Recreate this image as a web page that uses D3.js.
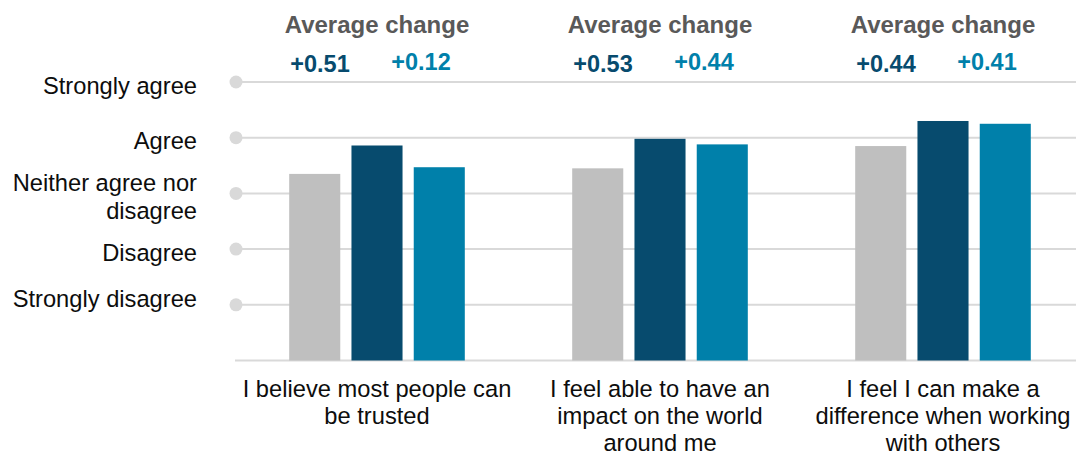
<!DOCTYPE html>
<html>
<head>
<meta charset="utf-8">
<script src="https://cdn.jsdelivr.net/npm/d3@7"></script>
<style>
  html, body { margin: 0; padding: 0; background: #fff; }
  svg { display: block; font-family: Arial, "Liberation Sans", sans-serif; }
</style>
</head>
<body>
<svg id="chart" width="1076" height="455"></svg>
<script>
// ---- data ----
const categories = [
  "I believe most people can be trusted",
  "I feel able to have an impact on the world around me",
  "I feel I can make a difference when working with others"
];
const categoryLines = [
  ["I believe most people can", "be trusted"],
  ["I feel able to have an", "impact on the world", "around me"],
  ["I feel I can make a", "difference when working", "with others"]
];
const seriesNames = ["Baseline", "Follow-up 1", "Follow-up 2"];
const baselineValues = [3.35, 3.45, 3.85];
const followUp1Values = [3.86, 3.98, 4.30];
const followUp2Values = [3.47, 3.88, 4.25];
const change1Labels = ["+0.51", "+0.53", "+0.44"];
const change2Labels = ["+0.12", "+0.44", "+0.41"];
const tickValues = [1, 2, 3, 4, 5];
const tickLabels = ["Strongly disagree", "Disagree", "Neither agree nor disagree", "Agree", "Strongly agree"];
const tickLabelLines = [["Strongly disagree"], ["Disagree"], ["Neither agree nor", "disagree"], ["Agree"], ["Strongly agree"]];
const headerText = "Average change";

// ---- styles ----
const colors = ["#BFBFBF", "#074B6E", "#0080AA"];
const gridColor = "#D9D9D9";

const svg = d3.select("#chart");
const W = 1076;

const y = d3.scaleLinear().domain([0, 5]).range([360.5, 82]);
const x0 = d3.scaleBand().domain(categories).range([235.5, 1084.5]).padding(0);
const x1 = d3.scaleBand().domain(seriesNames).range([-87.8, 87.8]).paddingInner(0.18).paddingOuter(0);
const cx = c => x0(c) + x0.bandwidth() / 2;

const seriesValues = [baselineValues, followUp1Values, followUp2Values];
const data = categories.map((c, i) => ({
  category: c,
  values: seriesNames.map((s, j) => ({ series: s, value: seriesValues[j][i], color: colors[j] }))
}));

// gridlines with dots
const grid = svg.append("g");
grid.selectAll("line.grid").data(tickValues).join("line")
  .attr("x1", 236).attr("x2", W)
  .attr("y1", d => y(d)).attr("y2", d => y(d))
  .attr("stroke", gridColor).attr("stroke-width", 2);
grid.selectAll("circle").data(tickValues).join("circle")
  .attr("cx", 236).attr("cy", d => y(d)).attr("r", 6.5)
  .attr("fill", gridColor);
// baseline
grid.append("line")
  .attr("x1", 235).attr("x2", W)
  .attr("y1", y(0)).attr("y2", y(0))
  .attr("stroke", gridColor).attr("stroke-width", 2);

// bars
const groups = svg.append("g").selectAll("g").data(data).join("g")
  .attr("transform", d => `translate(${cx(d.category)},0)`);
groups.selectAll("rect").data(d => d.values).join("rect")
  .attr("x", d => x1(d.series))
  .attr("width", x1.bandwidth())
  .attr("y", d => y(d.value))
  .attr("height", d => y(0) - y(d.value))
  .attr("fill", d => d.color);

// y labels
const labelNudge = { "Strongly disagree": -9.5 };
const lineH = 27.3;
const yl = svg.append("g").attr("font-size", "23.7px").attr("fill", "#0d0d0d").attr("text-anchor", "end");
tickValues.forEach((v, i) => {
  const lines = tickLabelLines[i];
  const base = y(v) + 11.5 - (lines.length - 1) * lineH / 2 + (labelNudge[tickLabels[i]] || 0);
  const t = yl.append("text").attr("x", 197).attr("y", base);
  lines.forEach((ln, k) => {
    t.append("tspan").attr("x", 197).attr("y", base + k * lineH).text(ln);
  });
});

// category labels
const cl = svg.append("g").attr("font-size", "23.7px").attr("fill", "#0d0d0d").attr("text-anchor", "middle");
categories.forEach((c, i) => {
  const t = cl.append("text");
  categoryLines[i].forEach((ln, k) => {
    t.append("tspan").attr("x", cx(c)).attr("y", 397.3 + k * 27).text(ln);
  });
});

// headers
const hd = svg.append("g").attr("font-weight", "bold").attr("text-anchor", "middle");
categories.forEach((c, i) => {
  hd.append("text").attr("x", cx(c)).attr("y", 33)
    .attr("font-size", "24px").attr("fill", "#595959").text(headerText);
  hd.append("text").attr("x", cx(c) - 57).attr("y", 71.5)
    .attr("font-size", "23.5px").attr("fill", colors[1]).text(change1Labels[i]);
  hd.append("text").attr("x", cx(c) + 44).attr("y", 70)
    .attr("font-size", "23.5px").attr("fill", colors[2]).text(change2Labels[i]);
});
</script>
</body>
</html>
